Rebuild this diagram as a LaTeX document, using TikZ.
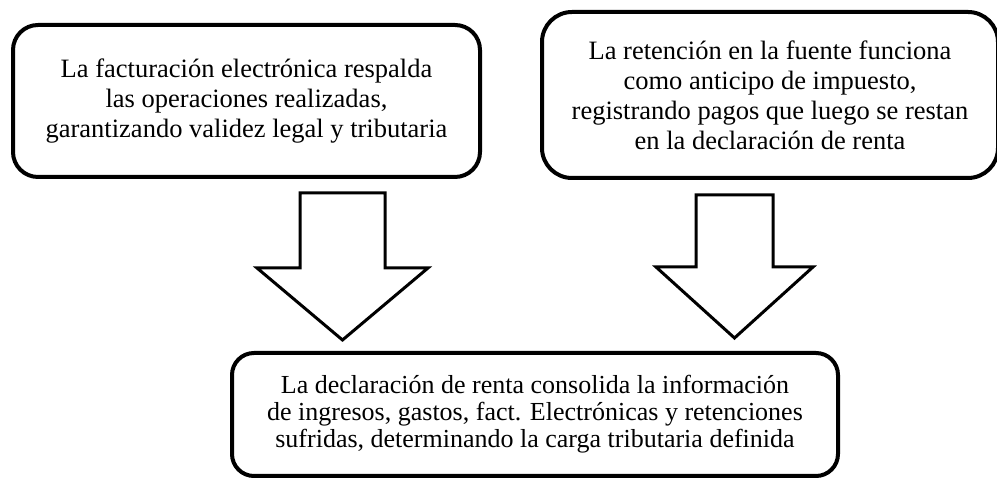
\documentclass[tikz,border=0pt]{standalone}
\usepackage{fontspec}
\setmainfont{Liberation Serif}
\usetikzlibrary{arrows,positioning}

\begin{document}
\begin{tikzpicture}[x=1pt,y=1pt,
	caja/.style={draw,line width=4pt,rounded corners=25pt,align=center,inner sep=0pt,
		font=\fontsize{26.5}{30}\selectfont},
	flecha/.style={draw,line width=3pt,fill=white,line join=miter}]
				\useasboundingbox (0,0) rectangle (997,478);
				\node[caja,minimum width=467pt,minimum height=152pt] (facturacion) at (246.5,377)
					{La facturación electrónica respalda\\las operaciones realizadas,\\garantizando validez legal y tributaria};
				\node[caja,minimum width=456pt,minimum height=166pt,rounded corners=30pt] (retencion) at (770,383)
					{La retención en la fuente funciona\\como anticipo de impuesto,\\registrando pagos que luego se restan\\en la declaración de renta};
				\node[caja,minimum width=606pt,minimum height=123pt,rounded corners=22pt,
					font=\fontsize{26}{27}\selectfont] (declaracion) at (535,63.5)
					{La declaración de renta consolida la información\\de ingresos, gastos, fact. Electrónicas y retenciones\\sufridas, determinando la carga tributaria definida};
				
				\foreach \xc/\yt/\sw/\hw/\yb/\ytip in
					{342.5/285/42.5/85.5/210/138,734.5/283/38.5/78.5/211/140}
					\draw[flecha] (\xc-\sw,\yt) -- (\xc-\sw,\yb) -- (\xc-\hw,\yb) -- (\xc,\ytip)
						-- (\xc+\hw,\yb) -- (\xc+\sw,\yb) -- (\xc+\sw,\yt) -- cycle;
	\end{tikzpicture}
\end{document}
